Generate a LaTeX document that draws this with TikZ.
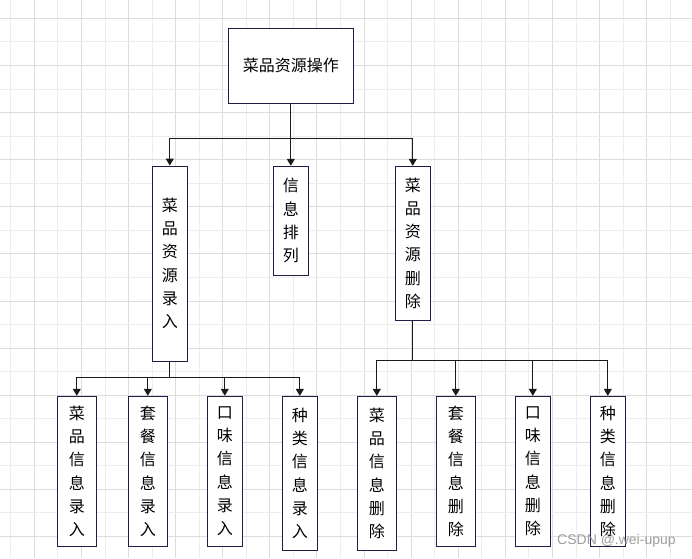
\documentclass[tikz,border=0pt]{standalone}
\usepackage{fontspec}
\newfontfamily\cjk{Noto Sans CJK SC}
\newfontfamily\wmfont{Liberation Sans}
\usetikzlibrary{arrows.meta}
\definecolor{boxline}{HTML}{1B1F48}
\definecolor{conn}{HTML}{1A1A1A}
\definecolor{gridminor}{HTML}{EDEDED}
\definecolor{gridmajor}{HTML}{DCDCDC}
\tikzset{
  box/.style={draw=boxline, line width=0.9pt, fill=white, rectangle, inner sep=0pt,
    align=center, font=\cjk\fontsize{16}{23.3}\selectfont, text=black},
  arr/.style={draw=conn, line width=1pt, -{Triangle[width=8pt,length=7pt]}},
  ln/.style={draw=conn, line width=1pt},
}
\begin{document}
\begin{tikzpicture}[x=1pt,y=-1pt]
\useasboundingbox (0,0) rectangle (692,558);
\fill[white] (0,0) rectangle (692,558);
% grid
\foreach \k in {0,...,29}{
  \pgfmathsetmacro\xx{10.7+23.55*\k}
  \pgfmathtruncatemacro\odd{mod(\k,2)}
  \ifnum\odd=1
    \draw[gridmajor, line width=0.8pt] (\xx,0) -- (\xx,558);
  \else
    \draw[gridminor, line width=0.8pt] (\xx,0) -- (\xx,558);
  \fi
}
\foreach \k in {0,...,23}{
  \pgfmathsetmacro\yy{18.3+23.55*\k}
  \pgfmathtruncatemacro\odd{mod(\k,2)}
  \ifnum\odd=0
    \draw[gridmajor, line width=0.8pt] (0,\yy) -- (692,\yy);
  \else
    \draw[gridminor, line width=0.8pt] (0,\yy) -- (692,\yy);
  \fi
}
% level 1
\node[box, minimum width=125pt, minimum height=75pt] (top) at (290.8,65.7) {菜品资源操作};
% level 2
\node[box, minimum width=35pt, minimum height=195pt] (r1) at (169.8,263.5) {菜\\品\\资\\源\\录\\入};
\node[box, minimum width=35pt, minimum height=109pt] (r2) at (290.8,220.7) {信\\息\\排\\列};
\node[box, minimum width=35pt, minimum height=154pt] (r3) at (412.8,243.2) {菜\\品\\资\\源\\删\\除};
% level 3 (录入)
\node[box, minimum width=39pt, minimum height=150pt] (a1) at (76.8,471.2) {菜\\品\\信\\息\\录\\入};
\node[box, minimum width=39pt, minimum height=150pt] (a2) at (147.8,471.2) {套\\餐\\信\\息\\录\\入};
\node[box, minimum width=35pt, minimum height=150pt] (a3) at (224.8,471.2) {口\\味\\信\\息\\录\\入};
\node[box, minimum width=35pt, minimum height=154pt] (a4) at (299.8,473.3) {种\\类\\信\\息\\录\\入};
% level 3 (删除)
\node[box, minimum width=39pt, minimum height=154pt] (b1) at (376.8,473.3) {菜\\品\\信\\息\\删\\除};
\node[box, minimum width=39pt, minimum height=150pt] (b2) at (455.8,471.3) {套\\餐\\信\\息\\删\\除};
\node[box, minimum width=35pt, minimum height=150pt] (b3) at (532.8,471.3) {口\\味\\信\\息\\删\\除};
\node[box, minimum width=35pt, minimum height=150pt] (b4) at (607.8,471.3) {种\\类\\信\\息\\删\\除};
% buses
\coordinate (bus1) at (290.8,138);
\coordinate (bus2) at (169.8,377.3);
\coordinate (bus3) at (412.8,360.3);
\draw[ln] (top.south) -- (bus1);
\draw[arr] (bus1) -| (r1.north);
\draw[arr] (bus1) -- (r2.north);
\draw[arr] (bus1) -| (r3.north);
\draw[ln] (r1.south) -- (bus2);
\draw[arr] (bus2) -| (a1.north);
\draw[arr] (bus2) -| (a2.north);
\draw[arr] (bus2) -| (a3.north);
\draw[arr] (bus2) -| (a4.north);
\draw[ln] (r3.south) -- (bus3);
\draw[arr] (bus3) -| (b1.north);
\draw[arr] (bus3) -| (b2.north);
\draw[arr] (bus3) -| (b3.north);
\draw[arr] (bus3) -| (b4.north);
% watermark
\node[font=\wmfont\fontsize{14}{14}\selectfont, text=black!45, text opacity=0.85, inner sep=0pt, anchor=west] (wm) at (557,541) {CSDN @.wei-upup};
\end{tikzpicture}
\end{document}
